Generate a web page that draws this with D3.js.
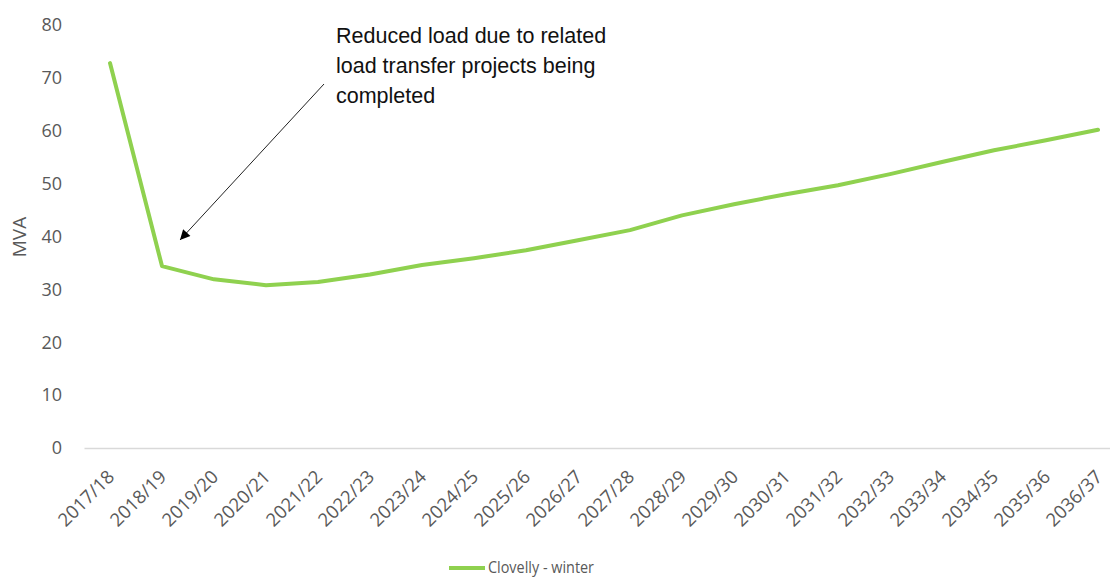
<!DOCTYPE html>
<html>
<head>
<meta charset="utf-8">
<script src="https://cdn.jsdelivr.net/npm/d3@7"></script>
<style>
  body { margin: 0; background: #fff; }
  svg { display: block; }
</style>
</head>
<body>
<div id="chart"></div>
<script>
// Clovelly winter load forecast (MVA)

const width = 1110;
const height = 579;

const years = ["2017/18", "2018/19", "2019/20", "2020/21", "2021/22", "2022/23", "2023/24",
  "2024/25", "2025/26", "2026/27", "2027/28", "2028/29", "2029/30", "2030/31", "2031/32",
  "2032/33", "2033/34", "2034/35", "2035/36", "2036/37"];
const winterLoad = [72.8, 34.4, 31.9, 30.8, 31.4, 32.8, 34.6, 35.9, 37.4, 39.3, 41.2,
  44.0, 46.1, 48.0, 49.7, 51.8, 54.1, 56.3, 58.2, 60.2];
const yTicks = [0, 10, 20, 30, 40, 50, 60, 70, 80];
const seriesName = "Clovelly - winter";
const noteLines = ["Reduced load due to related", "load transfer projects being", "completed"];

const green = "#8fd14f";
const grey = "#595959";
const tickFont = "'Open Sans', sans-serif";

const svg = d3.select("#chart")
  .append("svg")
  .attr("width", width)
  .attr("height", height);

const x = d3.scalePoint()
  .domain(years)
  .range([84, 1124])
  .padding(0.5);

const y = d3.scaleLinear()
  .domain([0, 80])
  .range([448, 25]);

// y axis labels (no axis line)
const yAxis = svg.append("g")
  .attr("transform", "translate(84,0)")
  .call(d3.axisLeft(y).tickValues(yTicks).tickSize(0).tickPadding(22));
yAxis.select(".domain").remove();
yAxis.selectAll("text")
  .attr("fill", grey)
  .style("font-family", tickFont)
  .style("font-size", "18px");

// x axis
const xAxis = svg.append("g")
  .attr("transform", "translate(0,448)")
  .call(d3.axisBottom(x).tickSize(0));
xAxis.select(".domain")
  .attr("stroke", "#d9d9d9")
  .attr("stroke-width", 1.5);
xAxis.selectAll("text")
  .attr("fill", grey)
  .style("font-family", tickFont)
  .style("font-size", "18.5px")
  .attr("text-anchor", "end")
  .attr("dy", null)
  .attr("y", null)
  .attr("transform", "translate(5,30) rotate(-45)");

// y title
svg.append("text")
  .attr("transform", "translate(26,237) rotate(-90)")
  .attr("text-anchor", "middle")
  .attr("fill", grey)
  .style("font-family", tickFont)
  .style("font-size", "19px")
  .text("MVA");

// series line
const line = d3.line()
  .x((d, i) => x(years[i]))
  .y(d => y(d));

svg.append("path")
  .datum(winterLoad)
  .attr("fill", "none")
  .attr("stroke", green)
  .attr("stroke-width", 4)
  .attr("stroke-linejoin", "round")
  .attr("stroke-linecap", "round")
  .attr("d", line);

// annotation
svg.append("defs").append("marker")
  .attr("id", "arrow")
  .attr("viewBox", "0 0 10 10")
  .attr("refX", 10)
  .attr("refY", 5)
  .attr("markerWidth", 12)
  .attr("markerHeight", 10)
  .attr("markerUnits", "userSpaceOnUse")
  .attr("orient", "auto")
  .append("path")
  .attr("d", "M0,0 L10,5 L0,10 Z")
  .attr("fill", "#000");

svg.append("line")
  .attr("x1", 324).attr("y1", 84)
  .attr("x2", 180).attr("y2", 240)
  .attr("stroke", "#222")
  .attr("stroke-width", 1)
  .attr("marker-end", "url(#arrow)");

svg.append("text")
  .attr("x", 336)
  .attr("y", 43)
  .attr("fill", "#111")
  .style("font-family", "'Liberation Sans', Arial, sans-serif")
  .style("font-size", "21.5px")
  .selectAll("tspan")
  .data(noteLines)
  .join("tspan")
  .attr("x", 336)
  .attr("dy", (d, i) => i === 0 ? 0 : 30)
  .text(d => d);

// legend
const legend = svg.append("g").attr("transform", "translate(449,568)");
legend.append("line")
  .attr("x1", 0).attr("x2", 36)
  .attr("stroke", green)
  .attr("stroke-width", 4);
legend.append("text")
  .attr("x", 39)
  .attr("y", 5)
  .attr("fill", grey)
  .attr("textLength", 106)
  .attr("lengthAdjust", "spacingAndGlyphs")
  .style("font-family", tickFont)
  .style("font-size", "17px")
  .text(seriesName);
</script>
</body>
</html>
